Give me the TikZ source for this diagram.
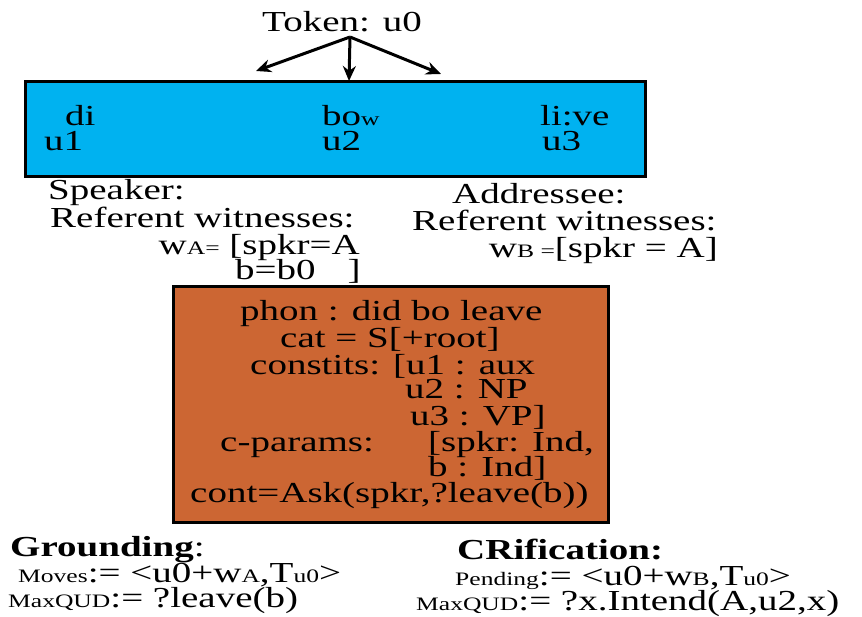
\documentclass[tikz,border=0pt]{standalone}
\usepackage{fontspec}
\setmainfont{Liberation Serif}[FakeStretch=1.345]
\usetikzlibrary{arrows.meta}

\definecolor{uttblue}{RGB}{0,178,240}
\definecolor{signorange}{RGB}{204,102,51}
\newcommand{\lowtxt}[1]{{\fontsize{19}{21}\selectfont #1}}

\begin{document}
\begin{tikzpicture}[x=1pt, y=-1pt,
  every node/.style={font=\fontsize{29}{31}\selectfont, inner sep=0pt, anchor=base west},
  boxline/.style={draw, line width=3pt},
  tokarrow/.style={-{Stealth[length=15pt, width=13pt]}, line width=3pt}]
  \useasboundingbox (0,0) rectangle (862,617);

  % utterance token and its three parts
  \fill[uttblue] (25,82) rectangle (645,177);
  \draw[boxline] (25,82) rectangle (645,177);
  \node (tok) at (262,32) {Token: u0};
  \coordinate (src) at (350,37);
  \coordinate (tipa) at (256,71);
  \coordinate (tipb) at (349,81);
  \coordinate (tipc) at (441,74);
  \draw[tokarrow] (src) -- (tipa);
  \draw[tokarrow] (src) -- (tipb);
  \draw[tokarrow] (src) -- (tipc);

  \node (di)   at (65,126)  {di};
  \node (u1)   at (44,151)  {u1};
  \node (bo)   at (322,126) {bo\lowtxt{w}};
  \node (u2)   at (322,151) {u2};
  \node (live) at (540,126) {li:ve};
  \node (u3)   at (542,151) {u3};

  % witnesses
  \node (spk)   at (48,200)  {Speaker:};
  \node (refa)  at (50,228)  {Referent witnesses:};
  \node[anchor=base east] (wa) at (360,255) {w\lowtxt{A=} [spkr=A};
  \node (wab)   at (235,280) {b=b0\hspace{32pt}]};
  \node (adr)   at (452,204) {Addressee:};
  \node (refb)  at (412,231) {Referent witnesses:};
  \node[anchor=base east] (wb) at (718,258) {w\lowtxt{B =}[spkr = A]};

  % sign
  \fill[signorange] (173,287) rectangle (608,522);
  \draw[boxline] (173,287) rectangle (608,522);
  \node (phon)  at (240,321) {phon : did bo leave};
  \node (cat)   at (280,348) {cat = S[+root]};
  \node (cons)  at (250,374) {constits: [u1 : aux};
  \node (cnp)   at (405,399) {u2 : NP};
  \node (cvp)   at (410,425) {u3 : VP]};
  \node (cpar)  at (220,451) {c-params:};
  \node (cspk)  at (428,451) {[spkr: Ind,};
  \node (cb)    at (428,476) {b : Ind]};
  \node (cont)  at (190,502) {cont=Ask(spkr,?leave(b))};

  % updates
  \node (grd)   at (10,556)  {\bfseries Grounding\mdseries:};
  \node (mvs)   at (18,582)  {\lowtxt{Moves}:= <u0+w\lowtxt{A},T\lowtxt{u0}>};
  \node (quda)  at (8,607)   {\lowtxt{MaxQUD}:= ?leave(b)};
  \node (crf)   at (457,559) {\bfseries CRification:};
  \node (pnd)   at (455,585) {\lowtxt{Pending}:= <u0+w\lowtxt{B},T\lowtxt{u0}>};
  \node (qudb)  at (416,610) {\lowtxt{MaxQUD}:= ?x.Intend(A,u2,x)};
\end{tikzpicture}
\end{document}
